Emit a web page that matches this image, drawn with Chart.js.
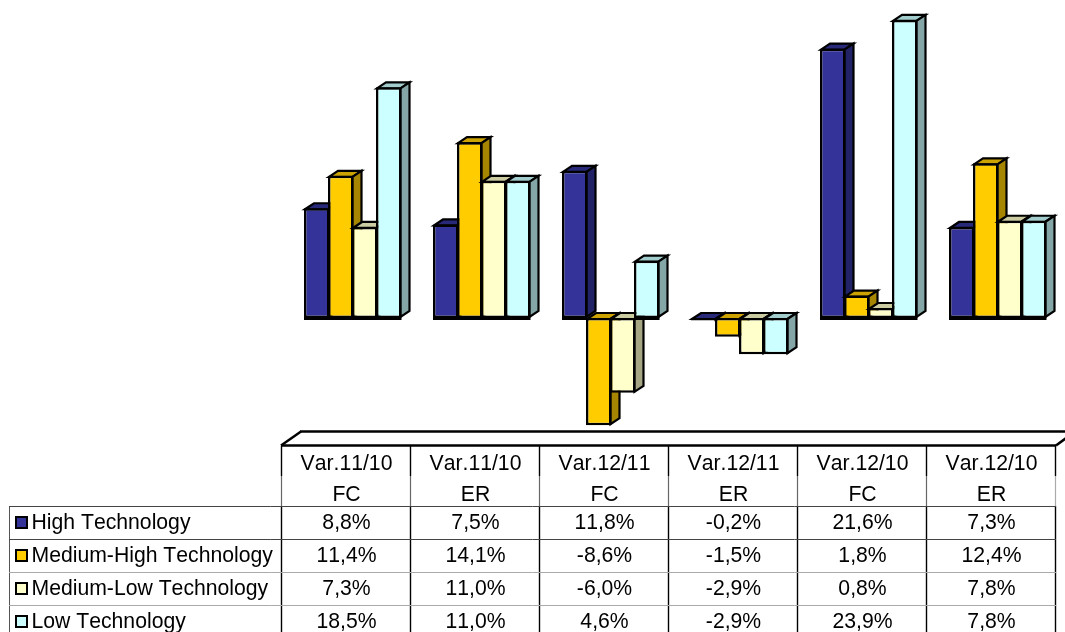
<!DOCTYPE html>
<html>
<head>
<meta charset="utf-8">
<style>html,body{margin:0;padding:0;background:#fff;overflow:hidden}canvas{display:block}</style>
<script src="https://cdn.jsdelivr.net/npm/chart.js@4"></script>
</head>
<body>
<canvas id="c" width="1065" height="632"></canvas>
<script>
const categories = [["Var.11/10","FC"],["Var.11/10","ER"],["Var.12/11","FC"],["Var.12/11","ER"],["Var.12/10","FC"],["Var.12/10","ER"]];
const highTech = [8.8, 7.5, 11.8, -0.2, 21.6, 7.3];
const mediumHighTech = [11.4, 14.1, -8.6, -1.5, 1.8, 12.4];
const mediumLowTech = [7.3, 11.0, -6.0, -2.9, 0.8, 7.8];
const lowTech = [18.5, 11.0, 4.6, -2.9, 23.9, 7.8];
const seriesNames = ["High Technology","Medium-High Technology","Medium-Low Technology","Low Technology"];
const seriesValues = [highTech, mediumHighTech, mediumLowTech, lowTech];
const frontColors = ["#333399","#FFCC00","#FFFFCC","#CCFFFF"];
const topColors = ["#29297A","#CCA300","#CCCCA3","#A3CCCC"];
const sideColors = ["#222266","#A68500","#A6A685","#85A6A6"];

const DX = 9, DY = -6;
const FONT = '21.2px "Liberation Sans", Arial, sans-serif';

const bars3d = {
  id: 'bars3d',
  beforeDatasetsDraw(chart) {
    const ctx = chart.ctx;
    seriesNames.forEach((_, i) => {
      const meta = chart.getDatasetMeta(i);
      ctx.save();
      ctx.strokeStyle = '#000'; ctx.lineWidth = 2.2; ctx.lineJoin = 'miter';
      meta.data.forEach(b => {
        const l = b.x - b.width/2, r = b.x + b.width/2;
        const t = Math.min(b.y, b.base), bt = Math.max(b.y, b.base);
        ctx.fillStyle = topColors[i];
        ctx.beginPath();
        ctx.moveTo(l+1,t+1); ctx.lineTo(l+1+DX,t+1+DY); ctx.lineTo(r-1+DX,t+1+DY); ctx.lineTo(r-1,t+1); ctx.closePath();
        ctx.fill(); ctx.stroke();
        ctx.fillStyle = sideColors[i];
        ctx.beginPath();
        ctx.moveTo(r-1,t+1); ctx.lineTo(r-1+DX,t+1+DY); ctx.lineTo(r-1+DX,bt-1+DY); ctx.lineTo(r-1,bt-1); ctx.closePath();
        ctx.fill(); ctx.stroke();
      });
      ctx.restore();
      meta.data.forEach(b => b.draw(ctx));
      ctx.save();
      ctx.fillStyle = '#000';
      meta.data.forEach((b, k) => {
        if (seriesValues[i][k] > 0) ctx.fillRect(b.x - b.width/2, b.base - 1, b.width, 3);
      });
      ctx.restore();
    });
    return false;
  }
};

const dataTable = {
  id: 'dataTable',
  afterDraw(chart) {
    const ctx = chart.ctx, xs = chart.scales.x;
    const colW = xs.getPixelForTick(1) - xs.getPixelForTick(0);
    const centers = categories.map((_, k) => xs.getPixelForTick(k) - 6.25);
    const x0 = centers[0] - colW/2, xEnd = centers[5] + colW/2;
    const rowY = [506, 539, 572, 605];
    const line = (a,b,c,d,col,w) => { ctx.strokeStyle=col; ctx.lineWidth=w; ctx.beginPath(); ctx.moveTo(a,b); ctx.lineTo(c,d); ctx.stroke(); };
    ctx.save();
    // floor
    line(x0-1, 445.5, xEnd, 445.5, '#000', 2.5);
    line(x0-1, 445.5, x0+19, 431.5, '#000', 2.5);
    line(x0+18, 431.5, 1065, 431.5, '#000', 2.5);
    line(xEnd, 445.5, xEnd+19, 431.5, '#000', 2.5);
    // grid
    for (let k = 0; k <= 6; k++) {
      const x = Math.round(x0 + k*colW) - 0.5;
      const edge = k === 6;
      line(x, 446, x, 476, '#000', 1.4);
      line(x, 476, x, 506, edge ? '#aaa' : '#666', 1.2);
      line(x, 506, x, 632, '#000', 1.4);
    }
    line(9.5, 506, 9.5, 632, '#555', 1);
    line(9, 506.5, xEnd, 506.5, '#444', 1);
    line(9, 539.5, xEnd, 539.5, '#444', 1);
    line(9, 572.5, xEnd, 572.5, '#aaa', 1);
    line(9, 605.5, xEnd, 605.5, '#aaa', 1);
    // text
    ctx.font = FONT; ctx.fontKerning = 'none'; ctx.fillStyle = '#000'; ctx.textBaseline = 'middle'; ctx.textAlign = 'center';
    categories.forEach((c, k) => {
      ctx.fillText(c[0], centers[k], 464);
      ctx.fillText(c[1], centers[k], 495);
    });
    seriesNames.forEach((name, s) => {
      const cy = rowY[s] + 17;
      ctx.fillStyle = frontColors[s]; ctx.strokeStyle = '#000'; ctx.lineWidth = 2;
      ctx.fillRect(16, cy-6, 11, 11); ctx.strokeRect(16, cy-6, 11, 11);
      ctx.fillStyle = '#000'; ctx.textAlign = 'left';
      ctx.fillText(name, 31.5, cy);
      ctx.textAlign = 'center';
      seriesValues[s].forEach((v, k) => {
        ctx.fillText(v.toFixed(1).replace('.', ',') + '%', centers[k], cy);
      });
    });
    ctx.restore();
  }
};

new Chart(document.getElementById('c'), {
  type: 'bar',
  data: {
    labels: categories,
    datasets: seriesNames.map((name, s) => ({
      label: name,
      data: seriesValues[s],
      backgroundColor: frontColors[s],
      borderColor: '#000',
      borderWidth: 2.5,
      borderSkipped: false,
      barPercentage: 25.5/24,
      categoryPercentage: 96/129
    }))
  },
  options: {
    responsive: false,
    animation: false,
    layout: { padding: { left: 288.25, right: 2.75, top: 0, bottom: 200 } },
    plugins: { legend: { display: false }, tooltip: { enabled: false }, title: { display: false } },
    scales: {
      x: { display: false },
      y: { display: false, min: -9.142, max: 25.5 }
    }
  },
  plugins: [bars3d, dataTable]
});
</script>
</body>
</html>
